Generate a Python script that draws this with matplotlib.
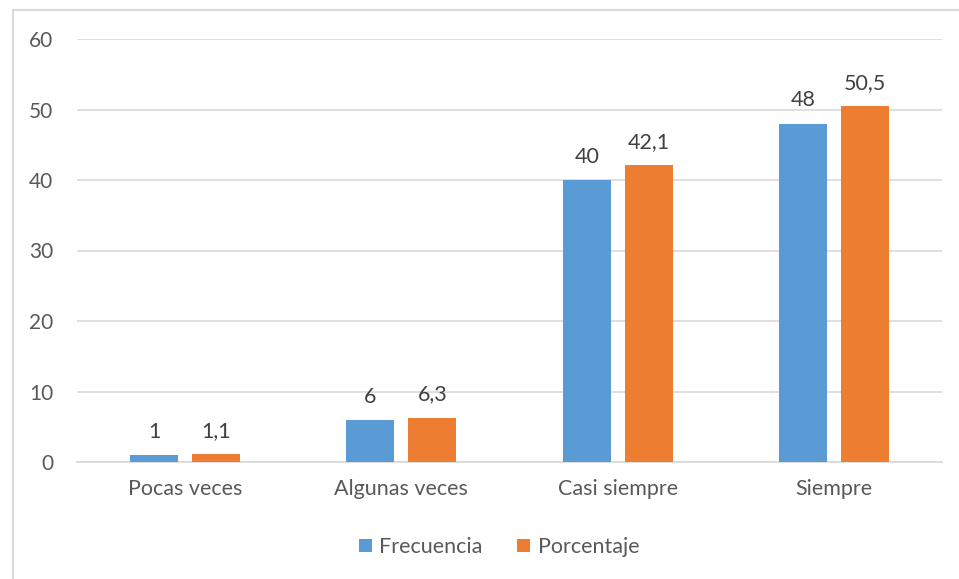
import matplotlib
matplotlib.use("Agg")
import matplotlib.pyplot as plt
import numpy as np
from matplotlib.patches import Rectangle

# Datos por categoria
categorias = ["Pocas veces", "Algunas veces", "Casi siempre", "Siempre"]
frecuencia = [1, 6, 40, 48]
porcentaje = [1.1, 6.3, 42.1, 50.5]
y_ticks = [0, 10, 20, 30, 40, 50, 60]

plt.rcParams['font.family'] = ['Lato', 'DejaVu Sans']
texto = '#595959'
azul = '#5B9BD5'
naranja = '#ED7D31'

fig = plt.figure(figsize=(9.59, 5.79), dpi=100)
ax = fig.add_axes([77 / 959, 1 - 462 / 579, (942 - 77) / 959, (462 - 39) / 579])

# Marco del grafico
fig.patches.append(Rectangle((13 / 959, -0.1), 1.1, 1 - 10 / 579 + 0.1,
                             transform=fig.transFigure, fill=False,
                             edgecolor='#D9D9D9', linewidth=1.5))

x = np.arange(len(categorias))
ancho = 0.222
desp = 0.143
b1 = ax.bar(x - desp, frecuencia, ancho, color=azul, label='Frecuencia', zorder=3)
b2 = ax.bar(x + desp, porcentaje, ancho, color=naranja, label='Porcentaje', zorder=3)

def fmt(v):
    s = f"{v:g}"
    return s.replace('.', ',')

# Etiquetas de valor sobre cada barra
for barras, valores in ((b1, frecuencia), (b2, porcentaje)):
    for b, v in zip(barras, valores):
        ax.annotate(fmt(v), (b.get_x() + b.get_width() / 2, v),
                    xytext=(0, 9.5), textcoords='offset points',
                    ha='center', va='bottom', fontsize=15.5, color='#404040')

ax.set_xlim(-0.5, len(categorias) - 0.5)
ax.set_ylim(0, 60)
ax.set_yticks(y_ticks)
ax.set_xticks(x)
ax.set_xticklabels(categorias, fontsize=15.5)
ax.yaxis.grid(True, color='#D9D9D9', linewidth=1.2, zorder=0)
for s in ['top', 'right', 'left']:
    ax.spines[s].set_visible(False)
ax.spines['bottom'].set_color('#D9D9D9')
ax.spines['bottom'].set_linewidth(1.2)
ax.tick_params(axis='both', length=0, labelsize=15, colors=texto)
ax.tick_params(axis='x', labelsize=15.5, pad=12)
ax.tick_params(axis='y', pad=17)

fig.legend(handles=[b1, b2], loc='center', bbox_to_anchor=(499 / 959, 1 - 547 / 579),
           ncol=2, frameon=False, fontsize=15.5, handlelength=0.6, handleheight=0.6,
           columnspacing=1.6, handletextpad=0.35, labelcolor=texto)

fig.savefig('out.png', dpi=100)
